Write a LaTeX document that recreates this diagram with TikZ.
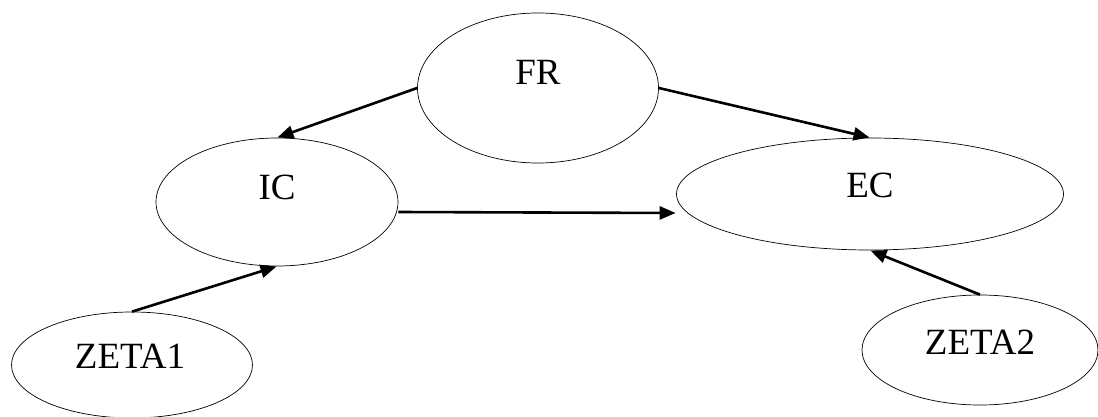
\documentclass[tikz,border=0pt]{standalone}
\usepackage{fontspec}
\setmainfont{Liberation Serif}
\usetikzlibrary{shapes.geometric,arrows.meta}
\begin{document}
\begin{tikzpicture}[x=1pt, y=-1pt, line join=round, >={Triangle[length=16pt,width=13pt]}]

		\tikzset{oval/.style={draw, ellipse, inner sep=0pt, line width=0.7pt},
		  oval text/.style={font=\fontsize{37}{44}\selectfont},
		  link/.style={->, line width=2.6pt, shorten >=0.5pt}}

		\useasboundingbox (0,0) rectangle (1098,417);
		\node[oval, minimum width=241, minimum height=150, label={[oval text, yshift=15.5pt]center:FR}] (fr) at (538,88) {};
		\node[oval, minimum width=242, minimum height=128, label={[oval text, yshift=15pt]center:IC}] (ic) at (277,202) {};
		\node[oval, minimum width=387, minimum height=112, label={[oval text, yshift=9pt]center:EC}] (ec) at (870,194) {};
		\node[oval, minimum width=241, minimum height=106, label={[oval text, yshift=9pt, xshift=-2pt]center:ZETA1}] (zeta1) at (132,365) {};
		\node[oval, minimum width=236, minimum height=110, label={[oval text, yshift=8pt]center:ZETA2}] (zeta2) at (980,350) {};

		\draw[link] (fr.west) -- (ic.north);
		\draw[link] (fr.east) -- (ec.north);
		\draw[link] ([yshift=-10pt]ic.east) -- ([yshift=-19pt]ec.west);
		\draw[link] (zeta1.north) -- (ic.south);
		\draw[link] (zeta2.north) -- (ec.south);
		\end{tikzpicture}
\end{document}
